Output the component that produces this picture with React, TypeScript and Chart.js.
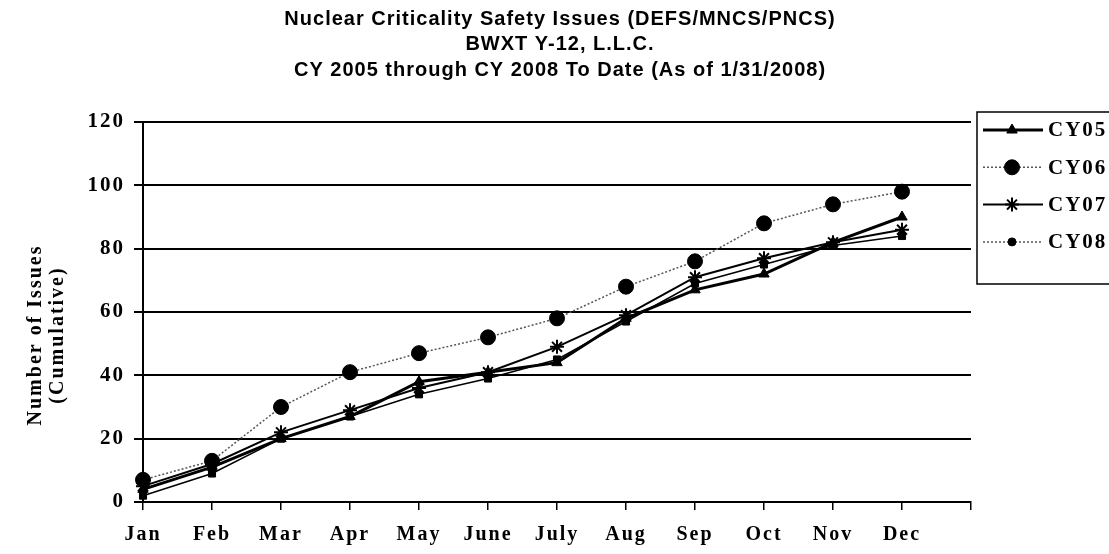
import React, { useEffect, useRef } from "react";
import { Chart, registerables } from "chart.js";
import { drawPoint } from "chart.js/helpers";

Chart.register(...registerables);

const titleLines = [
  "Nuclear Criticality Safety Issues (DEFS/MNCS/PNCS)",
  "BWXT Y-12, L.L.C.",
  "CY 2005 through CY 2008 To Date (As of 1/31/2008)",
];
const yTitleLines = ["Number of Issues", "(Cumulative)"];
const months = ["Jan", "Feb", "Mar", "Apr", "May", "June", "July", "Aug", "Sep", "Oct", "Nov", "Dec", ""];
const cy05 = [4, 11, 20, 27, 38, 41, 44, 58, 67, 72, 82, 90];
const cy06 = [7, 13, 30, 41, 47, 52, 58, 68, 76, 88, 94, 98];
const cy07 = [5, 12, 22, 29, 36, 41, 49, 59, 71, 77, 82, 86];
const boxSeries = [2, 9, 20, 27, 34, 39, 45, 57, 69, 75, 81, 84];
const cy08 = [7];
const yMin = 0;
const yMax = 120;
const yStep = 20;

const SERIF = '"Liberation Serif", "Times New Roman", serif';
const SANS = '"Liberation Sans", Arial, sans-serif';

const textPlugin = {
  id: "customText",
  beforeDraw(chart: any) {
    chart.ctx.letterSpacing = "2px";
  },
  afterDraw(chart: any) {
    const ctx = chart.ctx;
    ctx.save();
    ctx.letterSpacing = "1px";
    ctx.fillStyle = "#000";
    ctx.textAlign = "center";
    ctx.textBaseline = "middle";
    ctx.font = `bold 20px ${SANS}`;
    titleLines.forEach((t, i) => ctx.fillText(t, 560, 19 + i * 25.5));
    ctx.restore();

    ctx.save();
    ctx.letterSpacing = "2px";
    ctx.fillStyle = "#000";
    ctx.font = `bold 20px ${SERIF}`;
    ctx.textAlign = "center";
    ctx.textBaseline = "middle";
    yTitleLines.forEach((t, i) => {
      ctx.save();
      ctx.translate(36 + i * 22, 335);
      ctx.rotate(-Math.PI / 2);
      ctx.fillText(t, 0, 0);
      ctx.restore();
    });
    ctx.restore();

    // legend
    ctx.save();
    ctx.letterSpacing = "2px";
    ctx.strokeStyle = "#000";
    ctx.lineWidth = 1.5;
    ctx.strokeRect(977, 112, 200, 172);
    const entries = chart.data.datasets.filter((d: any) => d.inLegend);
    entries.forEach((d: any, i: number) => {
      const y = 130 + i * 37.3;
      ctx.save();
      ctx.strokeStyle = d.borderColor;
      ctx.lineWidth = d.borderWidth;
      ctx.setLineDash(d.borderDash || []);
      ctx.beginPath();
      ctx.moveTo(983, y);
      ctx.lineTo(1043, y);
      ctx.stroke();
      ctx.restore();
      ctx.save();
      ctx.fillStyle = d.pointBackgroundColor;
      ctx.strokeStyle = d.pointBorderColor;
      ctx.lineWidth = d.pointBorderWidth;
      drawPoint(ctx, { pointStyle: d.pointStyle, radius: d.pointRadius, borderWidth: d.pointBorderWidth, rotation: 0 }, 1012, y);
      ctx.restore();
      ctx.fillStyle = "#000";
      ctx.font = `bold 21px ${SERIF}`;
      ctx.textAlign = "left";
      ctx.textBaseline = "middle";
      ctx.fillText(d.label, 1048, y + 1);
    });
    ctx.restore();
  },
};

export default function App() {
  const ref = useRef<HTMLCanvasElement | null>(null);
  useEffect(() => {
    document.body.style.margin = "0";
    const canvas = ref.current!;
    const chart = new Chart(canvas, {
      type: "line",
      data: {
        labels: months,
        datasets: [
          {
            label: "CY05",
            inLegend: true,
            data: cy05,
            borderColor: "#000",
            borderWidth: 3,
            pointStyle: "triangle",
            pointRadius: 6,
            pointBackgroundColor: "#000",
            pointBorderColor: "#000",
            pointBorderWidth: 1,
            clip: false,
          } as any,
          {
            label: "CY06",
            inLegend: true,
            data: cy06,
            borderColor: "#555",
            borderWidth: 1.5,
            borderDash: [2, 2],
            pointStyle: "circle",
            pointRadius: 7.5,
            pointBackgroundColor: "#000",
            pointBorderColor: "#000",
            pointBorderWidth: 1,
            clip: false,
          } as any,
          {
            label: "CY07",
            inLegend: true,
            data: cy07,
            borderColor: "#000",
            borderWidth: 2,
            pointStyle: "star",
            pointRadius: 7,
            pointBackgroundColor: "#000",
            pointBorderColor: "#000",
            pointBorderWidth: 2,
            clip: false,
          } as any,
          {
            label: "CY08",
            inLegend: true,
            data: cy08,
            borderColor: "#555",
            borderWidth: 1.5,
            borderDash: [2, 2],
            pointStyle: "circle",
            pointRadius: 4,
            pointBackgroundColor: "#000",
            pointBorderColor: "#000",
            pointBorderWidth: 1,
            clip: false,
          } as any,
          {
            label: "",
            inLegend: false,
            data: boxSeries,
            borderColor: "#000",
            borderWidth: 1.5,
            pointStyle: "rect",
            pointRadius: 5,
            pointBackgroundColor: "#000",
            pointBorderColor: "#000",
            pointBorderWidth: 1,
            clip: false,
          } as any,
        ],
      },
      options: {
        responsive: false,
        animation: false,
        devicePixelRatio: 1,
        layout: { padding: { top: 122, right: 138, left: 0, bottom: 0 } },
        elements: { line: { tension: 0 } },
        plugins: {
          legend: { display: false },
          title: { display: false },
          tooltip: { enabled: false },
        },
        scales: {
          x: {
            offset: false,
            afterFit: (s: any) => {
              s.height = 52;
            },
            grid: { display: true, drawOnChartArea: false, color: "#000", lineWidth: 1.5, tickLength: 8 },
            border: { display: true, color: "#000", width: 2 },
            ticks: {
              color: "#000",
              font: { family: SERIF, size: 20, weight: "bold" },
              padding: 13,
              maxRotation: 0,
              autoSkip: false,
            },
          },
          y: {
            min: yMin,
            max: yMax,
            afterFit: (s: any) => {
              s.width = 143;
            },
            grid: { color: "#000", lineWidth: 2, tickLength: 9 },
            border: { display: true, color: "#000", width: 2 },
            ticks: {
              stepSize: yStep,
              color: "#000",
              font: { family: SERIF, size: 21, weight: "bold" },
              padding: 9,
            },
          },
        },
      },
      plugins: [textPlugin],
    } as any);
    return () => chart.destroy();
  }, []);
  return <canvas ref={ref} width={1109} height={554} style={{ display: "block", width: 1109, height: 554 }} />;
}
